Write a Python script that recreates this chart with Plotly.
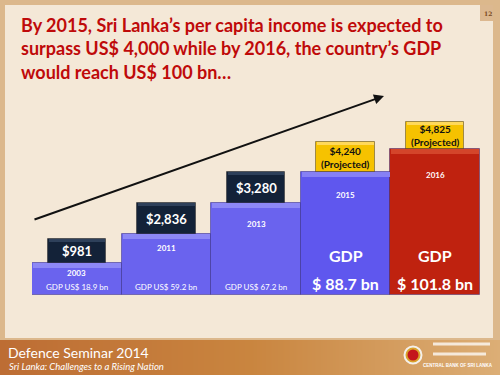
import plotly.graph_objects as go

# ---- data ----
years = ["2003", "2011", "2013", "2015", "2016"]
per_capita_labels = ["$981", "$2,836", "$3,280", "$4,240<br>(Projected)", "$4,825<br>(Projected)"]
gdp_labels = ["GDP US$ 18.9 bn", "GDP US$ 59.2 bn", "GDP US$ 67.2 bn", "$ 88.7 bn", "$ 101.8 bn"]
step_heights = [32, 61, 92, 123, 146]      # visual step heights
box_heights = [24, 31, 31, 30, 27]
projected = [False, False, False, True, True]

# ---- style ----
W, H = 500, 375
def X(px): return px / W
def Y(py): return 1 - py / H

bar_colors = ["#6a63ee", "#6a63ee", "#6a63ee", "#5f57ee", "#bf220f"]
bevel_colors = ["#8d88f6", "#8d88f6", "#8d88f6", "#8680f5", "#d4452a"]
box_colors = ["#132238" if not p else "#f6c200" for p in projected]
box_bevel = ["#2e405a" if not p else "#ffd95a" for p in projected]
year_offsets = [10, 14, 21, 23, 26]

xs = list(range(len(years)))

fig = go.Figure()

# footer gradient (heatmap)
fig.add_trace(go.Heatmap(
    z=[[0, 0.35, 1]], x=[0, 0.5, 1], y=[0], zsmooth="best",
    colorscale=[[0, "#bd6d34"], [0.35, "#c9853f"], [1, "#dcae76"]],
    showscale=False, hoverinfo="skip", xaxis="x2", yaxis="y2"))

# main step bars
fig.add_trace(go.Bar(
    x=xs, y=step_heights, width=1,
    marker=dict(color=bar_colors, line=dict(color="rgba(40,30,120,0.45)", width=1)),
    hoverinfo="skip"))
# bevel strip on top of bars
fig.add_trace(go.Bar(
    x=xs, y=[5] * len(xs), base=[h - 5 for h in step_heights], width=0.98,
    marker=dict(color=bevel_colors, line=dict(width=0)), hoverinfo="skip"))
# per-capita boxes
fig.add_trace(go.Bar(
    x=xs, y=box_heights, base=step_heights, width=0.65,
    marker=dict(color=box_colors, line=dict(color="rgba(0,0,0,0.35)", width=1)),
    hoverinfo="skip"))
fig.add_trace(go.Bar(
    x=xs, y=[3] * len(xs), base=[h + b - 3 for h, b in zip(step_heights, box_heights)], width=0.63,
    marker=dict(color=box_bevel, line=dict(width=0)), hoverinfo="skip"))

ann = []
# box labels
for i in xs:
    ann.append(dict(x=i, y=step_heights[i] + box_heights[i] / 2, xref="x", yref="y",
                    text="<b>%s</b>" % per_capita_labels[i], showarrow=False,
                    font=dict(family="Lato", size=10 if projected[i] else 13,
                              color="#111111" if projected[i] else "white")))
# year labels
for i in xs:
    ann.append(dict(x=i, y=step_heights[i] - year_offsets[i], xref="x", yref="y",
                    text="<b>%s</b>" % years[i], showarrow=False,
                    font=dict(family="Lato", size=8, color="white")))
# GDP labels
for i in xs:
    if projected[i]:
        ann.append(dict(x=i, y=40, xref="x", yref="y", text="<b>GDP</b>", showarrow=False,
                        font=dict(family="Lato", size=16, color="white")))
        ann.append(dict(x=i, y=12, xref="x", yref="y", text="<b>%s</b>" % gdp_labels[i],
                        showarrow=False, font=dict(family="Lato", size=16, color="white")))
    else:
        ann.append(dict(x=i, y=8, xref="x", yref="y", text=gdp_labels[i], showarrow=False,
                        font=dict(family="Lato", size=8, color="white")))

# title
title_lines = ["By 2015, Sri Lanka\u2019s per capita income is expected to",
               "surpass US$ 4,000 while by 2016, the country\u2019s GDP",
               "would reach US$ 100 bn\u2026"]
for k, line in enumerate(title_lines):
    ann.append(dict(x=X(19), y=Y(25 + 23.5 * k), xref="paper", yref="paper",
                    xanchor="left", yanchor="middle", text="<b>%s</b>" % line,
                    showarrow=False, font=dict(family="Lato", size=18, color="#bf0a0a")))

# arrow
ann.append(dict(x=X(384), y=Y(96), xref="paper", yref="paper", ax=-351, ay=124,
                showarrow=True, arrowhead=2, arrowsize=1, arrowwidth=2, arrowcolor="#111111",
                text=""))

# page number
ann.append(dict(x=X(487.5), y=Y(14), xref="paper", yref="paper", xanchor="center", yanchor="middle",
                text="<b>12</b>", showarrow=False,
                font=dict(family="DejaVu Serif", size=6, color="#7a4a22")))

# footer texts
ann.append(dict(x=X(7), y=Y(352), xref="paper", yref="paper", xanchor="left", yanchor="middle",
                text="Defence Seminar 2014", showarrow=False, borderpad=0,
                font=dict(family="Lato", size=14, color="white")))
ann.append(dict(x=X(8), y=Y(366), xref="paper", yref="paper", xanchor="left", yanchor="middle",
                text="<i>Sri Lanka: Challenges to a Rising Nation</i>", showarrow=False, borderpad=0,
                font=dict(family="Lato", size=9.5, color="white")))
ann.append(dict(x=X(494), y=Y(365), xref="paper", yref="paper", xanchor="right", yanchor="middle",
                text="<b>CENTRAL BANK OF SRI LANKA</b>", showarrow=False, borderpad=0,
                font=dict(family="Liberation Sans Narrow, Liberation Sans", size=4.5, color="white")))

shapes = [
    dict(type="rect", xref="paper", yref="paper", x0=X(5), x1=X(493), y0=Y(338), y1=Y(5),
         fillcolor="#f4e8d7", line=dict(width=0), layer="below"),
    dict(type="rect", xref="paper", yref="paper", x0=X(480), x1=X(493), y0=Y(21), y1=Y(5),
         fillcolor="#dcb890", line=dict(width=0), layer="below"),
    # logo
    dict(type="circle", xref="paper", yref="paper", x0=X(403.5), x1=X(422.5), y0=Y(364.5), y1=Y(345.5),
         fillcolor="#f4f0ea", line=dict(width=0), layer="above"),
    dict(type="circle", xref="paper", yref="paper", x0=X(405.5), x1=X(420.5), y0=Y(362.5), y1=Y(347.5),
         fillcolor="#d9a22c", line=dict(width=0), layer="above"),
    dict(type="circle", xref="paper", yref="paper", x0=X(407.5), x1=X(418.5), y0=Y(360.5), y1=Y(349.5),
         fillcolor="#c4161c", line=dict(width=0), layer="above"),
    # faint lines standing in for the Sinhala/Tamil bank name
    dict(type="line", xref="paper", yref="paper", x0=X(433), x1=X(490), y0=Y(344), y1=Y(344),
         line=dict(color="rgba(255,255,255,0.75)", width=3), layer="above"),
    dict(type="line", xref="paper", yref="paper", x0=X(433), x1=X(486), y0=Y(354), y1=Y(354),
         line=dict(color="rgba(255,255,255,0.75)", width=3), layer="above"),
]

fig.update_layout(
    width=W, height=H, margin=dict(l=0, r=0, t=0, b=0),
    paper_bgcolor="#dcb88c", plot_bgcolor="rgba(0,0,0,0)",
    barmode="overlay", bargap=0, showlegend=False,
    xaxis=dict(domain=[X(32), X(480)], range=[-0.5, 4.5], visible=False, fixedrange=True),
    yaxis=dict(domain=[Y(295), 1], range=[0, 295], visible=False, fixedrange=True),
    xaxis2=dict(domain=[0, 1], range=[0, 1], visible=False, anchor="y2"),
    yaxis2=dict(domain=[0, Y(340)], range=[-0.5, 0.5], visible=False, anchor="x2"),
    annotations=ann, shapes=shapes,
)

fig.write_html("out.html", config={"displayModeBar": False},
               post_script="document.body.style.margin='0';document.body.style.overflow='hidden';")
